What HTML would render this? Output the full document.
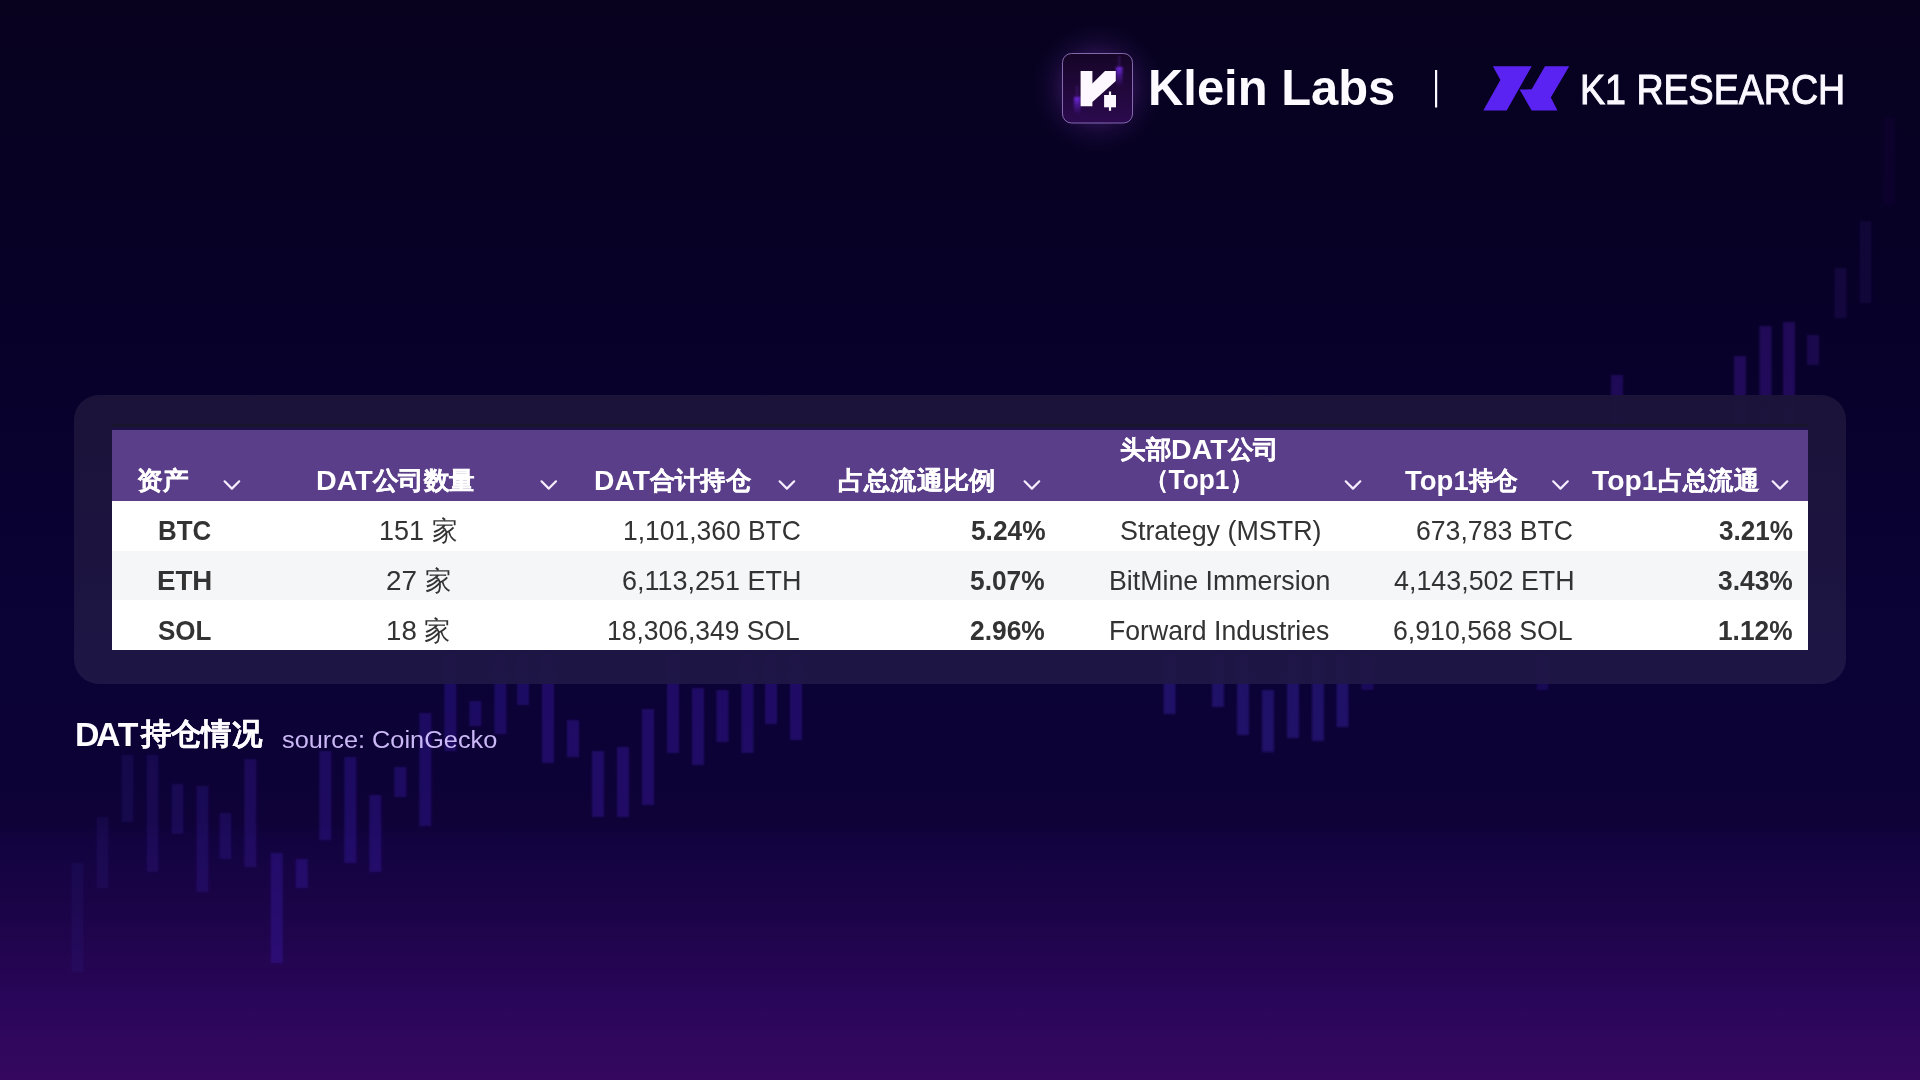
<!DOCTYPE html>
<html><head><meta charset="utf-8">
<style>
*{margin:0;padding:0;box-sizing:border-box}
html,body{width:1920px;height:1080px;overflow:hidden}
body{position:relative;font-family:"Liberation Sans",sans-serif;
background:linear-gradient(to bottom,#08021f 0%,#070125 20%,#08012c 37%,#0a0234 55%,#0b0235 64%,#0e0237 76%,#120340 78%,#1b0447 84%,#250553 90%,#29065a 92.6%,#30075d 96.3%,#35075f 100%);}
.t{position:absolute;white-space:nowrap;line-height:1;transform-origin:0 0}
.cj{-webkit-text-stroke:0.25px currentColor;position:relative;top:-1px}
#cap .cj{top:-2px;margin-left:2px}
svg{position:absolute;left:0;top:0}
#card{position:absolute;left:74px;top:395px;width:1772px;height:289px;border-radius:25px;background:linear-gradient(to bottom,#1c1439,#1f1746);opacity:0.93}
#tbl{position:absolute;left:112px;top:430px;width:1696px;height:220px;background:#fff;overflow:hidden}
#hdr{position:absolute;left:0;top:0;width:1696px;height:71px;background:#5b3e8a}
#r2{position:absolute;left:0;top:121px;width:1696px;height:49px;background:#f4f6f8}
</style></head>
<body>
<svg width="1920" height="1080">
<defs><filter id="cb" x="-50%" y="-10%" width="200%" height="120%"><feGaussianBlur stdDeviation="0.8"/></filter></defs><rect x="71.5" y="863" width="12" height="109" fill="#3f20b4" fill-opacity="0.11" filter="url(#cb)"/>
<rect x="96.5" y="817" width="12" height="71" fill="#3f20b4" fill-opacity="0.14" filter="url(#cb)"/>
<rect x="121.5" y="755" width="12" height="67" fill="#3f20b4" fill-opacity="0.17" filter="url(#cb)"/>
<rect x="146.5" y="755" width="12" height="117" fill="#3f20b4" fill-opacity="0.20" filter="url(#cb)"/>
<rect x="171.5" y="784" width="12" height="50" fill="#3f20b4" fill-opacity="0.23" filter="url(#cb)"/>
<rect x="196.5" y="786" width="12" height="106" fill="#3f20b4" fill-opacity="0.25" filter="url(#cb)"/>
<rect x="219.4" y="813" width="12" height="46" fill="#3f20b4" fill-opacity="0.25" filter="url(#cb)"/>
<rect x="244.4" y="759" width="12" height="108" fill="#3f20b4" fill-opacity="0.28" filter="url(#cb)"/>
<rect x="270.7" y="853" width="12" height="110" fill="#3f20b4" fill-opacity="0.35" filter="url(#cb)"/>
<rect x="295.7" y="859" width="12" height="29" fill="#3f20b4" fill-opacity="0.35" filter="url(#cb)"/>
<rect x="319.4" y="751" width="12" height="89" fill="#3f20b4" fill-opacity="0.33" filter="url(#cb)"/>
<rect x="344.4" y="757" width="12" height="106" fill="#3f20b4" fill-opacity="0.35" filter="url(#cb)"/>
<rect x="369.4" y="795" width="12" height="77" fill="#3f20b4" fill-opacity="0.35" filter="url(#cb)"/>
<rect x="394.4" y="767" width="12" height="30" fill="#3f20b4" fill-opacity="0.35" filter="url(#cb)"/>
<rect x="419.4" y="713" width="12" height="113" fill="#3f20b4" fill-opacity="0.35" filter="url(#cb)"/>
<rect x="444.4" y="655" width="12" height="96" fill="#3f20b4" fill-opacity="0.35" filter="url(#cb)"/>
<rect x="469.4" y="701" width="12" height="25" fill="#3f20b4" fill-opacity="0.35" filter="url(#cb)"/>
<rect x="494.4" y="655" width="12" height="79" fill="#3f20b4" fill-opacity="0.35" filter="url(#cb)"/>
<rect x="517.0" y="655" width="12" height="50" fill="#3f20b4" fill-opacity="0.35" filter="url(#cb)"/>
<rect x="542.0" y="655" width="12" height="108" fill="#3f20b4" fill-opacity="0.38" filter="url(#cb)"/>
<rect x="567.0" y="720" width="12" height="37" fill="#3f20b4" fill-opacity="0.38" filter="url(#cb)"/>
<rect x="592.0" y="751" width="12" height="66" fill="#3f20b4" fill-opacity="0.38" filter="url(#cb)"/>
<rect x="617.0" y="747" width="12" height="70" fill="#3f20b4" fill-opacity="0.38" filter="url(#cb)"/>
<rect x="642.0" y="709" width="12" height="96" fill="#3f20b4" fill-opacity="0.38" filter="url(#cb)"/>
<rect x="667.0" y="655" width="12" height="98" fill="#3f20b4" fill-opacity="0.38" filter="url(#cb)"/>
<rect x="692.0" y="688" width="12" height="77" fill="#3f20b4" fill-opacity="0.38" filter="url(#cb)"/>
<rect x="716.5" y="690" width="12" height="52" fill="#3f20b4" fill-opacity="0.38" filter="url(#cb)"/>
<rect x="741.5" y="655" width="12" height="98" fill="#3f20b4" fill-opacity="0.38" filter="url(#cb)"/>
<rect x="765.0" y="655" width="12" height="69" fill="#3f20b4" fill-opacity="0.38" filter="url(#cb)"/>
<rect x="790.0" y="655" width="12" height="85" fill="#3f20b4" fill-opacity="0.38" filter="url(#cb)"/>
<rect x="1163.6" y="655" width="12" height="59" fill="#3f20b4" fill-opacity="0.40" filter="url(#cb)"/>
<rect x="1212.0" y="655" width="12" height="52" fill="#3f20b4" fill-opacity="0.40" filter="url(#cb)"/>
<rect x="1237.0" y="655" width="12" height="80" fill="#3f20b4" fill-opacity="0.40" filter="url(#cb)"/>
<rect x="1262.0" y="690" width="12" height="62" fill="#3f20b4" fill-opacity="0.40" filter="url(#cb)"/>
<rect x="1287.0" y="655" width="12" height="83" fill="#3f20b4" fill-opacity="0.40" filter="url(#cb)"/>
<rect x="1312.0" y="655" width="12" height="86" fill="#3f20b4" fill-opacity="0.40" filter="url(#cb)"/>
<rect x="1336.5" y="655" width="12" height="72" fill="#3f20b4" fill-opacity="0.40" filter="url(#cb)"/>
<rect x="1361.5" y="655" width="12" height="35" fill="#3f20b4" fill-opacity="0.30" filter="url(#cb)"/>
<rect x="1536.5" y="655" width="12" height="35" fill="#3f20b4" fill-opacity="0.25" filter="url(#cb)"/>
<rect x="1611.0" y="375" width="12" height="50" fill="#5a26c4" fill-opacity="0.28" filter="url(#cb)"/>
<rect x="1734.0" y="356" width="12" height="69" fill="#5a26c4" fill-opacity="0.30" filter="url(#cb)"/>
<rect x="1759.5" y="326" width="12" height="99" fill="#5a26c4" fill-opacity="0.30" filter="url(#cb)"/>
<rect x="1783.0" y="322" width="12" height="103" fill="#5a26c4" fill-opacity="0.30" filter="url(#cb)"/>
<rect x="1807.0" y="335" width="12" height="30" fill="#5a26c4" fill-opacity="0.23" filter="url(#cb)"/>
<rect x="1834.5" y="268" width="12" height="50" fill="#5a26c4" fill-opacity="0.14" filter="url(#cb)"/>
<rect x="1859.5" y="221" width="12" height="82" fill="#5a26c4" fill-opacity="0.11" filter="url(#cb)"/>
<rect x="1883.0" y="117" width="12" height="88" fill="#5a26c4" fill-opacity="0.05" filter="url(#cb)"/>
</svg>

<div id="card"></div>
<div style="position:absolute;left:112px;top:424px;width:1696px;height:3px;background:#19152c"></div>
<div style="position:absolute;left:112px;top:427px;width:1696px;height:3px;background:#1d1044"></div>
<div id="tbl">
  <div id="hdr"></div>
  <div id="r2"></div>
</div>

<svg width="1920" height="1080">
<defs>
 <filter id="ib" x="-100%" y="-50%" width="300%" height="200%"><feGaussianBlur stdDeviation="0.9"/></filter>
 <linearGradient id="icg" x1="0" y1="0" x2="0" y2="1">
  <stop offset="0" stop-color="#160527"/>
  <stop offset="1" stop-color="#2b0a4e"/>
 </linearGradient>
 <radialGradient id="glow" cx="0.5" cy="0.5" r="0.5">
  <stop offset="0.45" stop-color="#3c1a66" stop-opacity="0.75"/>
  <stop offset="0.7" stop-color="#2a1250" stop-opacity="0.35"/>
  <stop offset="1" stop-color="#1a0c40" stop-opacity="0"/>
 </radialGradient>
 <linearGradient id="cdl" x1="0" y1="0" x2="0" y2="1">
  <stop offset="0" stop-color="#7a2cf0" stop-opacity="0.9"/>
  <stop offset="1" stop-color="#5a1cc0" stop-opacity="0"/>
 </linearGradient>
</defs>
<!-- Klein Labs icon -->
<rect x="1032" y="23" width="131" height="130" rx="45" fill="url(#glow)"/>
<rect x="1062.5" y="53.5" width="70" height="69.5" rx="9" fill="url(#icg)" stroke="#a789d6" stroke-opacity="0.75" stroke-width="1"/>
<g filter="url(#ib)">
<rect x="1074" y="97" width="6.5" height="18" fill="url(#cdl)"/>
<rect x="1076.6" y="86" width="1" height="11" fill="#7a3ae0" opacity="0.5"/>
<rect x="1116" y="67" width="6.5" height="20" fill="url(#cdl)"/>
<rect x="1118.8" y="56" width="1" height="11" fill="#7a3ae0" opacity="0.5"/>
</g>
<path d="M1080.6 71H1092.4V83.5L1105 71H1115.8V81L1092.4 102V106.2H1080.6Z" fill="#fdf8ff"/>
<rect x="1104.1" y="95" width="11.9" height="12.3" fill="#fdf8ff"/>
<rect x="1108.9" y="91.5" width="2.2" height="19.3" fill="#fdf8ff"/>
<!-- divider -->
<rect x="1435" y="70" width="2.2" height="37.5" fill="#fbf8ff"/>
<!-- K1 logo -->
<path d="M1492.9 66.25H1531.7L1506.7 110.4H1483.3L1500.4 80Z" fill="#5a23f2"/>
<path d="M1545 66.25H1569.2L1550.8 97.5L1557.5 110.4H1531.7L1519.6 89.6L1531.7 89.2Z" fill="#5a23f2"/>
<!-- chevrons -->
<g fill="none" stroke="#f6eeff" stroke-width="2.2" stroke-linecap="round" stroke-linejoin="round">
<path d="M224.6 481.3L231.9 488.6L239.2 481.3"/>
<path d="M541.5 481.3L548.8 488.6L556.0 481.3"/>
<path d="M779.6 481.3L786.9 488.6L794.2 481.3"/>
<path d="M1024.6 481.3L1031.9 488.6L1039.2 481.3"/>
<path d="M1345.7 481.3L1353.0 488.6L1360.3 481.3"/>
<path d="M1553.2 481.3L1560.5 488.6L1567.8 481.3"/>
<path d="M1772.7 481.3L1780.0 488.6L1787.3 481.3"/>
</g>
</svg>

<div class="t" id="kl" style="left:1148.28px;top:63.00px;font-size:49.5px;font-weight:bold;color:#fdfbff;transform:scale(0.9878,1.0000);">Klein Labs</div>
<div class="t" id="k1" style="left:1579.92px;top:68.80px;font-size:41.7px;font-weight:normal;color:#fbf9ff;transform:scale(0.9014,1.0000);-webkit-text-stroke:1px #fbf9ff;">K1 RESEARCH</div>
<div class="t" id="cap" style="left:74.75px;top:717.90px;font-size:33.4px;font-weight:bold;color:#fdfcff;transform:scale(1.0136,1.0000);"><span style="letter-spacing:-3.5px">D</span>AT<span class="cj" style="font-size:0.91em">持仓情况</span></div>
<div class="t" id="src" style="left:281.85px;top:727.60px;font-size:24.7px;font-weight:normal;color:#cbb8f6;transform:scale(1.0258,1.0000);">source: CoinGecko</div>
<div class="t" id="h1" style="left:136.99px;top:467.00px;font-size:28px;font-weight:bold;color:#fff;transform:scale(1.0250,1.0000);"><span class="cj" style="font-size:0.91em">资产</span></div>
<div class="t" id="h2" style="left:315.93px;top:467.00px;font-size:28px;font-weight:bold;color:#fff;transform:scale(1.0227,1.0000);">DAT<span class="cj" style="font-size:0.91em">公司数量</span></div>
<div class="t" id="h3" style="left:594.02px;top:467.00px;font-size:28px;font-weight:bold;color:#fff;transform:scale(1.0096,1.0000);">DAT<span class="cj" style="font-size:0.91em">合计持仓</span></div>
<div class="t" id="h4" style="left:838.49px;top:467.00px;font-size:28px;font-weight:bold;color:#fff;transform:scale(1.0487,1.0000);"><span class="cj" style="font-size:0.91em">占总流通比例</span></div>
<div class="t" id="h5a" style="left:1119.92px;top:435.80px;font-size:28px;font-weight:bold;color:#fff;transform:scale(1.0211,1.0000);"><span class="cj" style="font-size:0.91em">头部</span>DAT<span class="cj" style="font-size:0.91em">公司</span></div>
<div class="t" id="h5b" style="left:1144.65px;top:465.50px;font-size:28px;font-weight:bold;color:#fff;transform:scale(0.9412,1.0000);"><span class="cj" style="font-size:0.91em">（</span>Top1<span class="cj" style="font-size:0.91em">）</span></div>
<div class="t" id="h6" style="left:1405.00px;top:467.00px;font-size:28px;font-weight:bold;color:#fff;transform:scale(0.9828,1.0000);">Top1<span class="cj" style="font-size:0.91em">持仓</span></div>
<div class="t" id="h7" style="left:1592.00px;top:467.00px;font-size:28px;font-weight:bold;color:#fff;transform:scale(1.0121,1.0000);">Top1<span class="cj" style="font-size:0.91em">占总流通</span></div>
<div class="t" id="r0c0" style="left:158.28px;top:516.90px;font-size:27px;font-weight:bold;color:#333;transform:scale(0.9593,1.0500);">BTC</div>
<div class="t" id="r0c1" style="left:379.08px;top:516.90px;font-size:27px;font-weight:normal;color:#333;transform:scale(1.0000,1.0500);">151 <span class="cjn" style="font-size:0.94em">家</span></div>
<div class="t" id="r0c2" style="left:622.66px;top:516.90px;font-size:27px;font-weight:normal;color:#333;transform:scale(0.9792,1.0500);">1,101,360 BTC</div>
<div class="t" id="r0c3" style="left:971.00px;top:516.90px;font-size:27px;font-weight:bold;color:#333;transform:scale(0.9737,1.0500);">5.24%</div>
<div class="t" id="r0c4" style="left:1120.01px;top:516.90px;font-size:27px;font-weight:normal;color:#333;transform:scale(0.9950,1.0500);">Strategy (MSTR)</div>
<div class="t" id="r0c5" style="left:1415.98px;top:516.90px;font-size:27px;font-weight:normal;color:#333;transform:scale(0.9861,1.0500);">673,783 BTC</div>
<div class="t" id="r0c6" style="left:1719.00px;top:516.90px;font-size:27px;font-weight:bold;color:#333;transform:scale(0.9671,1.0500);">3.21%</div>
<div class="t" id="r1c0" style="left:157.28px;top:567.10px;font-size:27px;font-weight:bold;color:#333;transform:scale(1.0245,1.0500);">ETH</div>
<div class="t" id="r1c1" style="left:385.85px;top:567.10px;font-size:27px;font-weight:normal;color:#333;transform:scale(1.0328,1.0500);">27 <span class="cjn" style="font-size:0.94em">家</span></div>
<div class="t" id="r1c2" style="left:622.00px;top:567.10px;font-size:27px;font-weight:normal;color:#333;transform:scale(1.0000,1.0500);">6,113,251 ETH</div>
<div class="t" id="r1c3" style="left:970.03px;top:567.10px;font-size:27px;font-weight:bold;color:#333;transform:scale(0.9750,1.0500);">5.07%</div>
<div class="t" id="r1c4" style="left:1109.07px;top:567.10px;font-size:27px;font-weight:normal;color:#333;transform:scale(0.9900,1.0500);">BitMine Immersion</div>
<div class="t" id="r1c5" style="left:1394.00px;top:567.10px;font-size:27px;font-weight:normal;color:#333;transform:scale(0.9944,1.0500);">4,143,502 ETH</div>
<div class="t" id="r1c6" style="left:1718.01px;top:567.10px;font-size:27px;font-weight:bold;color:#333;transform:scale(0.9776,1.0500);">3.43%</div>
<div class="t" id="r2c0" style="left:158.00px;top:616.90px;font-size:27px;font-weight:bold;color:#333;transform:scale(0.9636,1.0500);">SOL</div>
<div class="t" id="r2c1" style="left:385.91px;top:616.90px;font-size:27px;font-weight:normal;color:#333;transform:scale(1.0250,1.0500);">18 <span class="cjn" style="font-size:0.94em">家</span></div>
<div class="t" id="r2c2" style="left:607.16px;top:616.90px;font-size:27px;font-weight:normal;color:#333;transform:scale(0.9795,1.0500);">18,306,349 SOL</div>
<div class="t" id="r2c3" style="left:970.00px;top:616.90px;font-size:27px;font-weight:bold;color:#333;transform:scale(0.9776,1.0500);">2.96%</div>
<div class="t" id="r2c4" style="left:1109.12px;top:616.90px;font-size:27px;font-weight:normal;color:#333;transform:scale(0.9856,1.0500);">Forward Industries</div>
<div class="t" id="r2c5" style="left:1393.01px;top:616.90px;font-size:27px;font-weight:normal;color:#333;transform:scale(0.9890,1.0500);">6,910,568 SOL</div>
<div class="t" id="r2c6" style="left:1718.26px;top:616.90px;font-size:27px;font-weight:bold;color:#333;transform:scale(0.9733,1.0500);">1.12%</div>
</body></html>
